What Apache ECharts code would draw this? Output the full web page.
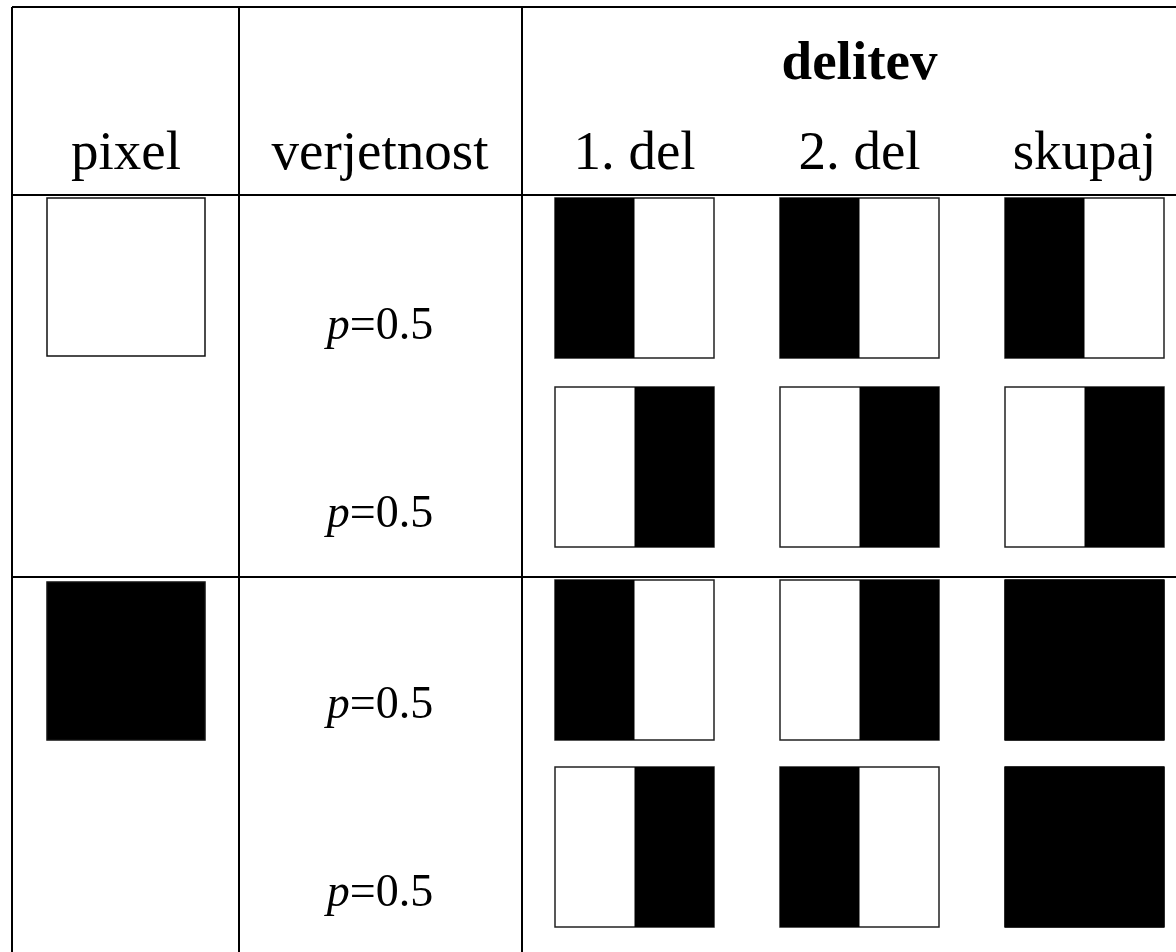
<!DOCTYPE html>
<html>
<head>
<meta charset="utf-8">
<script src="https://cdn.jsdelivr.net/npm/echarts@6/dist/echarts.min.js"></script>
<style>
html,body{margin:0;padding:0;background:#fff;}
#c{width:1176px;height:952px;}
</style>
</head>
<body>
<div id="c"></div>
<script>
// ---- data ----
const headers = ['pixel', 'verjetnost', '1. del', '2. del', 'skupaj'];
const groupHeader = 'delitev';
const pixelValues = [0, 1];               // 0 = white pixel, 1 = black pixel (one per group of two rows)
const probabilities = [0.5, 0.5, 0.5, 0.5];
// each share: [left half black?, right half black?]
const share1 = [[1, 0], [0, 1], [1, 0], [0, 1]];
const share2 = [[1, 0], [0, 1], [0, 1], [1, 0]];
const stacked = [[1, 0], [0, 1], [1, 1], [1, 1]];

// ---- layout (pixel-space axes) ----
const W = 1176, H = 952;
const colCenter = [126, 380, 634.5, 859.5, 1084.5];
const colLines = [12, 239, 522];
const hLines = [7, 195, 577];
const tableBottom = 952;
const rowTop = [198, 387, 580, 767];
const blockW = 159, blockH = 160;
const pixelTop = [198, 582];
const pixelSize = 158;
const subHeaderBaseline = 170, groupBaseline = 80;
const probBaseline = [340, 528, 719, 907];

const serif = '"Liberation Serif", "Times New Roman", serif';

const blockData = [];
[share1, share2, stacked].forEach((arr, k) => {
  arr.forEach((v, r) => blockData.push([k + 2, r, v[0], v[1]]));
});

function renderBlock(params, api) {
  const col = api.value(0), row = api.value(1);
  const L = api.value(2), R = api.value(3);
  const x0 = colCenter[col] - blockW / 2;
  const y0 = rowTop[row];
  const p0 = api.coord([x0, y0]);
  const pm = api.coord([x0 + blockW / 2, y0 + blockH]);
  const p1 = api.coord([x0 + blockW, y0 + blockH]);
  const w = p1[0] - p0[0], h = p1[1] - p0[1];
  const children = [
    { type: 'rect', shape: { x: p0[0], y: p0[1], width: w, height: h }, style: { fill: '#fff', stroke: '#222', lineWidth: 1.5 } }
  ];
  if (L && R) {
    children.push({ type: 'rect', shape: { x: p0[0], y: p0[1], width: w, height: h }, style: { fill: '#000', stroke: '#000', lineWidth: 1 } });
  } else if (L) {
    children.push({ type: 'rect', shape: { x: p0[0], y: p0[1], width: pm[0] - p0[0], height: h }, style: { fill: '#000' } });
  } else if (R) {
    children.push({ type: 'rect', shape: { x: pm[0], y: p0[1], width: p1[0] - pm[0], height: h }, style: { fill: '#000' } });
  }
  return { type: 'group', children: children };
}

function renderPixel(params, api) {
  const g = api.value(0), v = api.value(1);
  const x0 = colCenter[0] - pixelSize / 2;
  const y0 = pixelTop[g];
  const p0 = api.coord([x0, y0]);
  const p1 = api.coord([x0 + pixelSize, y0 + pixelSize]);
  return {
    type: 'rect',
    shape: { x: p0[0], y: p0[1], width: p1[0] - p0[0], height: p1[1] - p0[1] },
    style: { fill: v ? '#000' : '#fff', stroke: '#111', lineWidth: 1.5 }
  };
}

// table rules
const lineData = [];
hLines.forEach(y => lineData.push([colLines[0], y, W, y]));
colLines.forEach(x => lineData.push([x, hLines[0], x, tableBottom]));
function renderLine(params, api) {
  const a = api.coord([api.value(0), api.value(1)]);
  const b = api.coord([api.value(2), api.value(3)]);
  return { type: 'line', shape: { x1: a[0], y1: a[1], x2: b[0], y2: b[1] }, style: { stroke: '#000', lineWidth: 2 } };
}

// header texts
const headerData = headers.map((h, i) => [i, 0]);
function renderHeader(params, api) {
  const i = api.value(0);
  const p = api.coord([colCenter[i], subHeaderBaseline]);
  return { type: 'text', style: { text: headers[i], x: p[0], y: p[1], align: 'center', verticalAlign: 'bottom', font: '55px ' + serif, fill: '#000' }, y: 12 };
}
function renderGroup(params, api) {
  const p = api.coord([colCenter[3], groupBaseline]);
  return { type: 'text', style: { text: groupHeader, x: p[0], y: p[1], align: 'center', verticalAlign: 'bottom', font: 'bold 55px ' + serif, fill: '#000' }, y: 12 };
}
function renderProb(params, api) {
  const r = api.value(0), v = api.value(1);
  const p = api.coord([colCenter[1], probBaseline[r]]);
  return {
    type: 'text',
    y: 10,
    style: {
      text: '{i|p}{n|=' + v + '}',
      x: p[0], y: p[1], align: 'center', verticalAlign: 'bottom',
      rich: {
        i: { fontFamily: serif, fontStyle: 'italic', fontSize: 46, fill: '#000' },
        n: { fontFamily: serif, fontSize: 46, fill: '#000' }
      }
    }
  };
}

const chart = echarts.init(document.getElementById('c'), null, { renderer: 'canvas' });
chart.setOption({
  animation: false,
  backgroundColor: '#fff',
  grid: { left: 0, top: 0, right: 0, bottom: 0 },
  xAxis: { type: 'value', min: 0, max: W, show: false },
  yAxis: { type: 'value', min: 0, max: H, inverse: true, show: false },
  series: [
    { type: 'custom', renderItem: renderPixel, data: pixelValues.map((v, g) => [g, v]) },
    { type: 'custom', renderItem: renderBlock, data: blockData },
    { type: 'custom', renderItem: renderLine, data: lineData },
    { type: 'custom', renderItem: renderHeader, data: headerData },
    { type: 'custom', renderItem: renderGroup, data: [[0]] },
    { type: 'custom', renderItem: renderProb, data: probabilities.map((v, r) => [r, v]) }
  ]
});
</script>
</body>
</html>
